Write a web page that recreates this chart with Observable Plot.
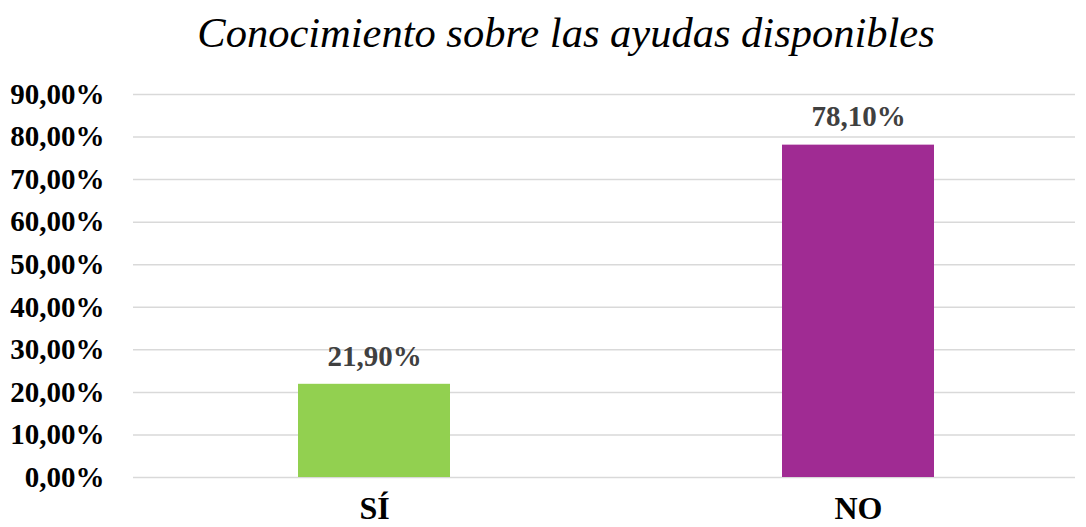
<!DOCTYPE html>
<html><head><meta charset="utf-8">
<script src="https://cdn.jsdelivr.net/npm/d3@7"></script>
<script src="https://cdn.jsdelivr.net/npm/@observablehq/plot@0.6"></script>
<style>
body{margin:0;background:#fff;}
#wrap{width:1086px;height:527px;position:relative;overflow:hidden;}
#title{height:70px;box-sizing:border-box;padding-top:11px;padding-left:46px;font:italic 42.5px/43px "Liberation Serif";text-align:center;color:#000;white-space:nowrap;}
</style>
</head><body>
<div id="wrap"><div id="title">Conocimiento sobre las ayudas disponibles</div><div id="chart"></div></div>
<script>
const categories = ["SÍ", "NO"];
const values = [21.9, 78.1];
const barColors = ["#92D050", "#A02B93"];
const yTicks = [0, 10, 20, 30, 40, 50, 60, 70, 80, 90];

const fmt = v => v.toFixed(2).replace(".", ",") + "%";
const data = categories.map((c, i) => ({cat: c, value: values[i], color: barColors[i]}));

const chart = Plot.plot({
  width: 1086,
  height: 457,
  marginTop: 24,
  marginBottom: 50,
  marginLeft: 133,
  marginRight: 11,
  style: {fontFamily: "'Liberation Serif', 'Times New Roman', serif", background: "#fff", overflow: "visible"},
  x: {domain: categories, range: [132, 1100], paddingInner: 0.686, paddingOuter: 0.343, label: null},
  y: {domain: [0, 90], label: null},
  marks: [
    Plot.ruleY(yTicks, {stroke: "#d9d9d9", strokeWidth: 1.5}),
    Plot.barY(data, {x: "cat", y: "value", fill: "color"}),
    Plot.text(data, {x: "cat", y: "value", text: d => fmt(d.value), dy: -28, fontSize: 29, fontWeight: "bold", fill: "#404040"}),
    Plot.axisY({ticks: yTicks, tickSize: 0, tickPadding: 29, tickFormat: fmt, fontSize: 29, fontWeight: "bold", fill: "#000", label: null}),
    Plot.axisX({tickSize: 0, tickPadding: 19, fontSize: 32, fontWeight: "bold", fill: "#000", label: null})
  ]
});
document.getElementById("chart").appendChild(chart);
</script>
</body></html>
